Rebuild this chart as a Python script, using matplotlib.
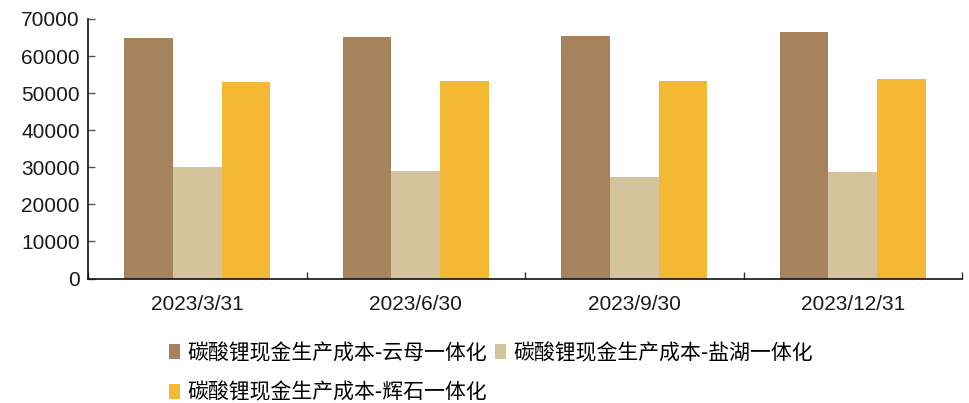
import matplotlib
matplotlib.use("Agg")
import matplotlib.pyplot as plt
import numpy as np
from matplotlib.patches import Patch

categories = ["2023/3/31", "2023/6/30", "2023/9/30", "2023/12/31"]
series_names = ["碳酸锂现金生产成本-云母一体化", "碳酸锂现金生产成本-盐湖一体化", "碳酸锂现金生产成本-辉石一体化"]
mica = [65000, 65050, 65400, 66400]
salt_lake = [30200, 29100, 27400, 28700]
spodumene = [53000, 53200, 53200, 53900]
colors = ["#A6835C", "#D4C39C", "#F3B834"]
yticks = [0, 10000, 20000, 30000, 40000, 50000, 60000, 70000]

plt.rcParams['font.family'] = ['Liberation Sans', 'Noto Sans CJK SC', 'DejaVu Sans']

fig = plt.figure(figsize=(9.69, 4.03), dpi=100)
ax = fig.add_axes([88/969, 1-278.5/403, (962-88)/969, (278.5-19)/403])

x = np.arange(len(categories))
w = 0.223
data = [mica, salt_lake, spodumene]
handles = []
for i, (vals, c) in enumerate(zip(data, colors)):
    ax.bar(x + (i-1)*w, vals, width=w, color=c, edgecolor='none')
    handles.append(Patch(facecolor=c, edgecolor='none'))

ax.set_xlim(-0.5, len(categories)-0.5)
ax.set_ylim(0, 70000)
ax.set_yticks(yticks)
ax.set_yticklabels([str(v) for v in yticks], fontsize=15, color='#1a1a1a')
ax.set_xticks(x)
ax.set_xticklabels(categories, fontsize=15, color='#1a1a1a')
ax.set_xticks(np.arange(len(categories)+1)-0.5, minor=True)
ax.tick_params(axis='x', which='major', length=0, pad=12)
ax.tick_params(axis='x', which='minor', direction='in', length=5, width=1, color='#333333')
ax.tick_params(axis='y', direction='in', length=5, width=1, color='#555555', pad=6)
for s in ['top', 'right']:
    ax.spines[s].set_visible(False)
for s in ['left', 'bottom']:
    ax.spines[s].set_color('#111111')
    ax.spines[s].set_linewidth(1.2)

leg_handles = [handles[0], handles[2], handles[1]]
leg_labels = [series_names[0], series_names[2], series_names[1]]
fig.legend(leg_handles, leg_labels, loc='upper left', bbox_to_anchor=(169/969, 1-342/403),
           ncol=2, frameon=False, handlelength=0.55, handleheight=0.7, handletextpad=0.35,
           columnspacing=0.35, labelspacing=0.85, borderaxespad=0, borderpad=0,
           prop={'family': ['Noto Sans CJK SC', 'DejaVu Sans'], 'size': 15})

fig.savefig("out.png", dpi=100, facecolor='white')
